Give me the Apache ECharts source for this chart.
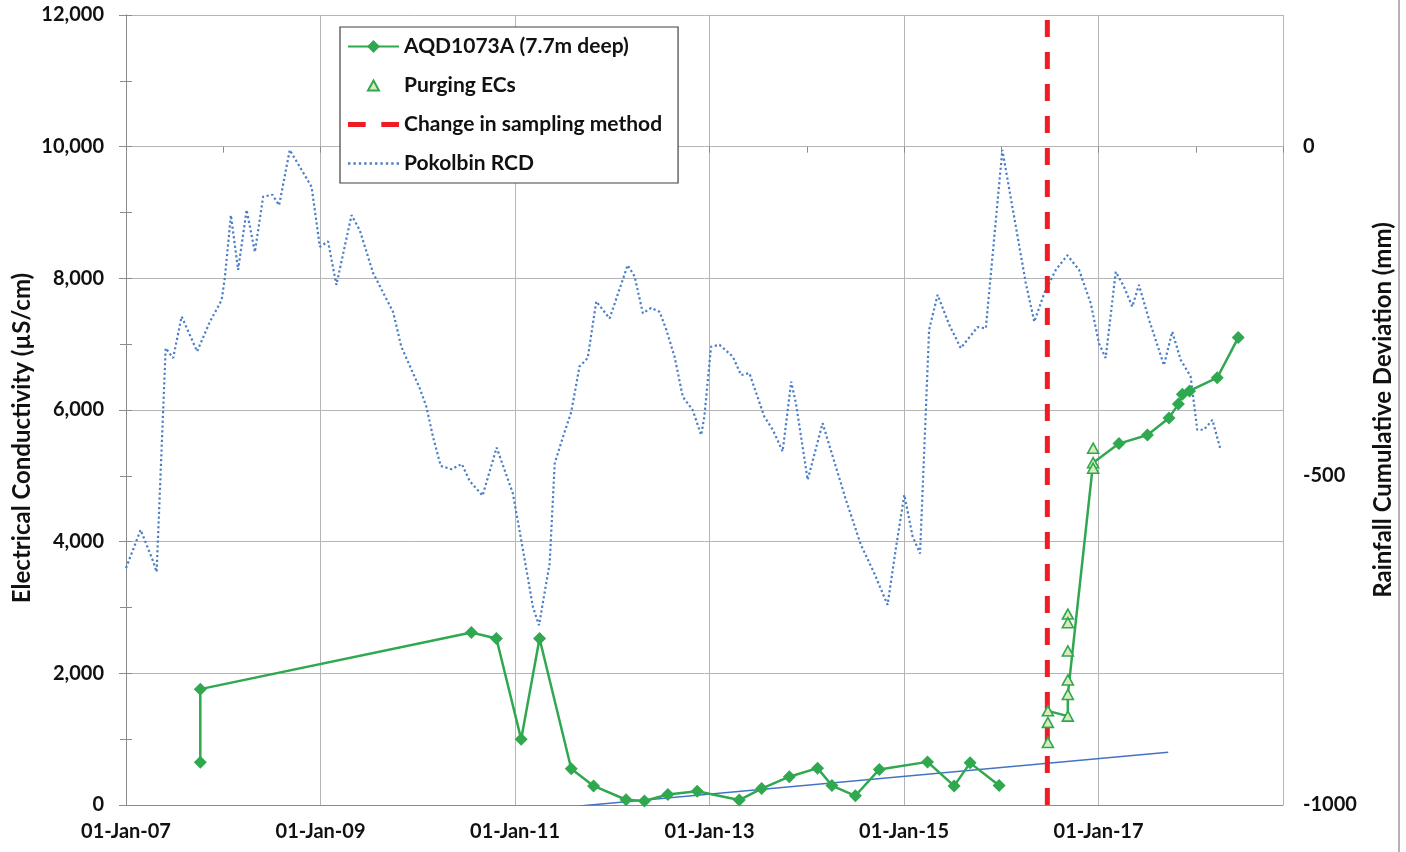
<!DOCTYPE html>
<html>
<head>
<meta charset="utf-8">
<title>AQD1073A electrical conductivity and Pokolbin rainfall cumulative deviation</title>
<script src="https://cdn.jsdelivr.net/npm/echarts@6/dist/echarts.min.js"></script>
<style>
  html, body { margin: 0; padding: 0; background: #ffffff; }
  #chart { width: 1406px; height: 852px; }
</style>
</head>
<body>
<div id="chart"></div>
<script>
// ---------------- data ----------------
// AQD1073A monitoring bore EC (µS/cm); null marks the gap before the new sampling method
const aqdDates = [
  '2007-10-07', '2007-10-07', '2010-07-21', '2010-10-23', '2011-01-24', '2011-04-03',
  '2011-07-31', '2011-10-23', '2012-02-22', '2012-05-01', '2012-07-28', '2012-11-15',
  '2013-04-22', '2013-07-15', '2013-10-27', '2014-02-10', '2014-04-05', '2014-07-02',
  '2014-09-30', '2015-03-30', '2015-07-08', '2015-09-06', '2015-12-24', '2016-03-01',
  '2016-06-24', '2016-09-07', '2016-09-07', '2016-12-11', '2017-03-18', '2017-07-03',
  '2017-09-22', '2017-10-27', '2017-11-11', '2017-12-08', '2018-03-22', '2018-06-09'
];
const aqdEC = [
  650, 1760, 2620, 2530, 1000, 2530,
  550, 290, 80, 60, 160, 210,
  75, 250, 430, 560, 295, 140,
  540, 655, 290, 640, 295, null,
  1430, 1350, 1680, 5200, 5490, 5620,
  5880, 6090, 6240, 6290, 6490, 7100
];
// false where a purging triangle sits on the sample instead of a diamond
const aqdDiamond = [
  true, true, true, true, true, true,
  true, true, true, true, true, true,
  true, true, true, true, true, true,
  true, true, true, true, true, true,
  false, false, false, false, true, true,
  true, true, true, true, true, true
];

// EC readings taken while purging the bore
const purgeDates = [
  '2016-06-24', '2016-06-24', '2016-06-24',
  '2016-09-07', '2016-09-07', '2016-09-07', '2016-09-07', '2016-09-07', '2016-09-07',
  '2016-12-11', '2016-12-11', '2016-12-11'
];
const purgeEC = [
  1430, 1255, 950,
  2900, 2770, 2340, 1900, 1680, 1350,
  5420, 5200, 5115
];

// date the sampling method changed
const samplingChangeDate = '2016-06-22';

// linear EC trend from mid 2011
const trendDates = ['2011-08-31', '2017-09-19'];
const trendEC = [-15, 800];

// Pokolbin rainfall cumulative deviation (mm)
const rcdDates = [
  '2007-01-01', '2007-02-25', '2007-04-13', '2007-04-26', '2007-05-30', '2007-06-27',
  '2007-07-29', '2007-09-25', '2007-11-12', '2007-12-26', '2008-01-07', '2008-01-30',
  '2008-02-26', '2008-03-29', '2008-04-29', '2008-05-30', '2008-07-04', '2008-07-29',
  '2008-09-07', '2008-11-28', '2008-12-29', '2009-01-29', '2009-03-01', '2009-04-27',
  '2009-05-28', '2009-07-17', '2009-09-30', '2009-10-31', '2010-01-08', '2010-02-02',
  '2010-02-27', '2010-03-28', '2010-05-08', '2010-06-15', '2010-07-15', '2010-09-01',
  '2010-10-24', '2010-12-24', '2011-01-31', '2011-03-09', '2011-04-01', '2011-05-11',
  '2011-05-30', '2011-06-30', '2011-07-31', '2011-08-31', '2011-10-01', '2011-11-02',
  '2011-12-22', '2012-02-28', '2012-03-25', '2012-04-25', '2012-05-26', '2012-06-27',
  '2012-07-22', '2012-08-22', '2012-09-22', '2012-10-29', '2012-11-30', '2012-12-12',
  '2013-01-06', '2013-02-07', '2013-03-29', '2013-04-29', '2013-05-30', '2013-07-25',
  '2013-08-26', '2013-10-02', '2013-11-03', '2013-11-21', '2014-01-04', '2014-03-01',
  '2014-05-28', '2014-07-23', '2014-09-11', '2014-10-31', '2014-12-02', '2015-01-02',
  '2015-02-02', '2015-03-02', '2015-04-05', '2015-05-07', '2015-06-20', '2015-08-02',
  '2015-10-04', '2015-11-04', '2016-01-05', '2016-02-25', '2016-04-02', '2016-05-04',
  '2016-06-10', '2016-07-24', '2016-09-05', '2016-10-19', '2016-12-02', '2017-01-02',
  '2017-01-27', '2017-03-06', '2017-04-06', '2017-05-07', '2017-06-01', '2017-07-09',
  '2017-09-03', '2017-10-04', '2017-11-05', '2017-12-12', '2018-01-06', '2018-01-31',
  '2018-03-04', '2018-04-04'
];
const rcdValues = [
  -640, -582, -630, -646, -306, -321,
  -258, -311, -266, -233, -200, -104,
  -187, -96, -160, -76, -73, -89,
  -5, -61, -152, -144, -210, -104,
  -127, -192, -251, -304, -367, -395,
  -441, -485, -490, -482, -508, -530,
  -457, -527, -613, -699, -727, -633,
  -481, -441, -403, -334, -321, -235,
  -261, -180, -197, -253, -245, -251,
  -278, -319, -380, -400, -438, -410,
  -304, -301, -319, -347, -344, -410,
  -430, -463, -357, -390, -506, -420,
  -537, -605, -648, -696, -608, -529,
  -592, -618, -278, -225, -271, -306,
  -274, -276, -5, -122, -207, -266,
  -223, -187, -165, -187, -238, -299,
  -321, -190, -213, -243, -210, -263,
  -332, -281, -324, -349, -430, -430,
  -415, -461
];

// axis extents and labels
const xStartDate = '2007-01-01';
const xEndDate = '2018-11-24';
const monthNames = ['Jan', 'Feb', 'Mar', 'Apr', 'May', 'Jun', 'Jul', 'Aug', 'Sep', 'Oct', 'Nov', 'Dec'];
const rightAxisLabels = [-1000, -500, 0];
const leftAxisTitle = 'Electrical Conductivity (µS/cm)';
const rightAxisTitle = 'Rainfall Cumulative Deviation (mm)';

// ---------------- helpers ----------------
const DAY_MS = 86400000;
const ORIGIN = Date.UTC(2007, 0, 1);
const TWO_YEARS = 730.5;   // label / gridline step in days
const ONE_YEAR = 365.25;   // tick step in days

function dayOf(s) {
  const p = s.split('-').map(Number);
  return (Date.UTC(p[0], p[1] - 1, p[2]) - ORIGIN) / DAY_MS;
}

function dateLabel(v) {
  const k = v / TWO_YEARS;
  if (Math.abs(k - Math.round(k)) > 1e-6) return '';
  const dt = new Date(ORIGIN + Math.round(v) * DAY_MS);
  const dd = String(dt.getUTCDate()).padStart(2, '0');
  return dd + '-' + monthNames[dt.getUTCMonth()] + '-' + String(dt.getUTCFullYear()).slice(2);
}

const GREEN = '#2fa84f';
const TRI_FILL = '#dcebbd';
const RED = '#ee1c25';
const BLUE_DOT = '#4a7ec6';
const BLUE_TREND = '#4472c4';
const AXIS_GREY = '#8c8c8c';
const GRID_GREY = '#b5b5b5';
const FONT = 'Lato';

const aqdData = aqdDates.map((d, i) => {
  const item = { value: [dayOf(d), aqdEC[i] === null ? '-' : aqdEC[i]] };
  if (!aqdDiamond[i]) item.symbol = 'none';
  return item;
});
const purgeData = purgeDates.map((d, i) => [dayOf(d), purgeEC[i]]);
const rcdData = rcdDates.map((d, i) => [dayOf(d), rcdValues[i]]);
const trendData = trendDates.map((d, i) => [dayOf(d), trendEC[i]]);
const changeX = dayOf(samplingChangeDate);
const changeData = [[changeX, 0], [changeX, 12000]];

// legend icons: dashed and dotted strokes, and a smaller triangle
let dotPath = 'path://';
for (let i = 0; i < 10; i++) dotPath += 'M' + (i * 5) + ',0h2.2v2.2h-2.2z';
const dashPath = 'path://M0,0h17v5h-17zM32,0h17v5h-17z';
const triPath = 'path://M0,0M16,16M2.5,13L8,3L13.5,13Z';

const labelStyle = { fontFamily: FONT, fontSize: 20, fontWeight: 'bold', color: '#111111' };
const titleStyle = { fill: '#111111', fontFamily: FONT, fontSize: 24, fontWeight: 'bold', align: 'center', verticalAlign: 'middle' };

const chart = echarts.init(document.getElementById('chart'), null, { renderer: 'canvas' });

chart.setOption({
  animation: false,
  backgroundColor: '#ffffff',
  grid: { left: 126, right: 123, top: 15, bottom: 47, containLabel: false },
  legend: {
    orient: 'vertical',
    left: 340,
    top: 27,
    padding: [9, 16, 9, 7],
    itemGap: 18,
    itemWidth: 51,
    itemHeight: 16,
    borderColor: '#404040',
    borderWidth: 1.2,
    backgroundColor: '#ffffff',
    selectedMode: false,
    textStyle: { fontFamily: FONT, fontSize: 21, fontWeight: 'bold', color: '#111111', lineHeight: 20 },
    data: [
      { name: 'AQD1073A (7.7m deep)' },
      { name: 'Purging ECs', icon: triPath },
      { name: 'Change in sampling method', icon: dashPath },
      { name: 'Pokolbin RCD', icon: dotPath }
    ]
  },
  xAxis: [
    {
      type: 'value',
      position: 'bottom',
      min: dayOf(xStartDate),
      max: dayOf(xEndDate),
      interval: TWO_YEARS,
      axisLine: { show: true, lineStyle: { color: AXIS_GREY, width: 1 } },
      axisTick: { show: false },
      axisLabel: Object.assign({ margin: 17, formatter: dateLabel, showMaxLabel: false }, labelStyle),
      splitLine: { show: true, lineStyle: { color: GRID_GREY, width: 1 } }
    },
    {
      // yearly tick marks under the date axis
      type: 'value',
      position: 'bottom',
      min: dayOf(xStartDate),
      max: dayOf(xEndDate),
      interval: ONE_YEAR,
      axisLine: { show: false },
      axisTick: { show: true, length: 6, lineStyle: { color: AXIS_GREY } },
      axisLabel: { show: false },
      splitLine: { show: false }
    }
  ],
  yAxis: [
    {
      type: 'value',
      position: 'left',
      min: 0,
      max: 12000,
      interval: 2000,
      axisLine: { show: true, lineStyle: { color: AXIS_GREY, width: 1 } },
      axisTick: { show: true, length: 7, lineStyle: { color: AXIS_GREY } },
      axisLabel: Object.assign({ margin: 22, formatter: v => v.toLocaleString('en-US') }, labelStyle),
      splitLine: { show: true, lineStyle: { color: GRID_GREY, width: 1 } }
    },
    {
      type: 'value',
      position: 'right',
      min: -1000,
      max: 200,
      interval: 100,
      axisLine: { show: true, lineStyle: { color: AXIS_GREY, width: 1 } },
      axisTick: { show: true, length: 6, lineStyle: { color: AXIS_GREY } },
      axisLabel: Object.assign({
        margin: 20,
        formatter: v => (rightAxisLabels.indexOf(v) >= 0 ? String(v) : '')
      }, labelStyle),
      splitLine: { show: false }
    },
    {
      // 1,000 µS/cm tick marks on the left axis
      type: 'value',
      position: 'left',
      min: 0,
      max: 12000,
      interval: 1000,
      axisLine: { show: false },
      axisTick: { show: true, length: 6, lineStyle: { color: AXIS_GREY } },
      axisLabel: { show: false },
      splitLine: { show: false }
    }
  ],
  graphic: [
    {
      type: 'text', x: 22, y: 438, rotation: Math.PI / 2, z: 10,
      style: Object.assign({ text: leftAxisTitle }, titleStyle)
    },
    {
      type: 'text', x: 1383, y: 410, rotation: Math.PI / 2, z: 10,
      style: Object.assign({ text: rightAxisTitle }, titleStyle)
    },
    {
      type: 'line', z: 10,
      shape: { x1: 1399, y1: 0, x2: 1399, y2: 852 },
      style: { stroke: '#9a9a9a', lineWidth: 1.5 }
    }
  ],
  series: [
    {
      name: 'Pokolbin RCD',
      type: 'line',
      xAxisIndex: 0,
      yAxisIndex: 1,
      data: rcdData,
      symbol: 'none',
      itemStyle: { color: BLUE_DOT },
      lineStyle: { color: BLUE_DOT, width: 2.2, type: [2.2, 2.6] },
      z: 2
    },
    {
      name: 'EC trend',
      type: 'line',
      xAxisIndex: 0,
      yAxisIndex: 0,
      data: trendData,
      symbol: 'none',
      itemStyle: { color: BLUE_TREND },
      lineStyle: { color: BLUE_TREND, width: 1.5 },
      z: 3
    },
    {
      name: 'Change in sampling method',
      type: 'line',
      xAxisIndex: 0,
      yAxisIndex: 0,
      data: changeData,
      symbol: 'none',
      itemStyle: { color: RED },
      lineStyle: { color: RED, width: 5, type: [17, 15] },
      z: 4
    },
    {
      name: 'AQD1073A (7.7m deep)',
      type: 'line',
      xAxisIndex: 0,
      yAxisIndex: 0,
      data: aqdData,
      connectNulls: false,
      symbol: 'diamond',
      symbolSize: 13,
      showAllSymbol: true,
      itemStyle: { color: GREEN },
      lineStyle: { color: GREEN, width: 2.5 },
      z: 5
    },
    {
      name: 'Purging ECs',
      type: 'scatter',
      xAxisIndex: 0,
      yAxisIndex: 0,
      data: purgeData,
      symbol: 'triangle',
      symbolSize: [11, 10],
      itemStyle: { color: TRI_FILL, borderColor: GREEN, borderWidth: 1.6, opacity: 1 },
      z: 6
    }
  ]
});
</script>
</body>
</html>
